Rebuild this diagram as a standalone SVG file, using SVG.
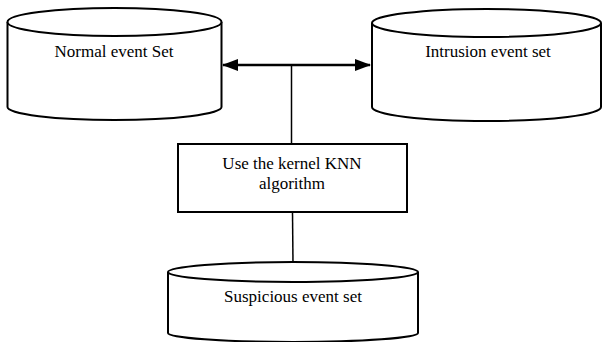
<svg xmlns="http://www.w3.org/2000/svg" width="602" height="342" viewBox="0 0 602 342">
<style>
.shape{fill:#fff;stroke:#000;stroke-width:2}
.lbl{font-family:"Liberation Serif","Times New Roman",serif;font-size:17px;fill:#000;text-anchor:middle}
.conn{stroke:#000;fill:none}
</style>
<defs>
<marker id="ah" viewBox="0 0 16 12" refX="15" refY="6" markerWidth="16" markerHeight="12" markerUnits="userSpaceOnUse" orient="auto-start-reverse">
<path d="M0,0 L16,6 L0,12 Z" fill="#000"/>
</marker>
</defs>
<rect width="602" height="342" fill="#fff"/>
<g id="connectors">
<line class="conn" x1="223" y1="65" x2="370" y2="65" stroke-width="2.5" marker-start="url(#ah)" marker-end="url(#ah)"/>
<line class="conn" x1="291.5" y1="65" x2="291.5" y2="144" stroke-width="1.5"/>
<line class="conn" x1="292.5" y1="212" x2="293" y2="263" stroke-width="1.5"/>
</g>
<g id="normal">
<path class="shape" d="M7.5,22 L7.5,107 A107,13 0 0 0 221.5,107 L221.5,22"/>
<ellipse class="shape" cx="114.5" cy="22" rx="107" ry="14"/>
<text class="lbl" x="114" y="57">Normal event Set</text>
</g>
<g id="intrusion">
<path class="shape" d="M372,23 L372,107 A114.5,14 0 0 0 601,107 L601,23"/>
<ellipse class="shape" cx="486.5" cy="23" rx="114.5" ry="14"/>
<text class="lbl" x="488" y="57">Intrusion event set</text>
</g>
<g id="knn">
<rect class="shape" x="178" y="144" width="229" height="68"/>
<text class="lbl" x="292" y="169">Use the kernel KNN</text>
<text class="lbl" x="292" y="189">algorithm</text>
</g>
<g id="suspicious">
<path class="shape" d="M168,272 L168,333 A125,9 0 0 0 418,333 L418,272"/>
<ellipse class="shape" cx="293" cy="272" rx="125" ry="10"/>
<text class="lbl" x="293" y="302">Suspicious event set</text>
</g>
</svg>
